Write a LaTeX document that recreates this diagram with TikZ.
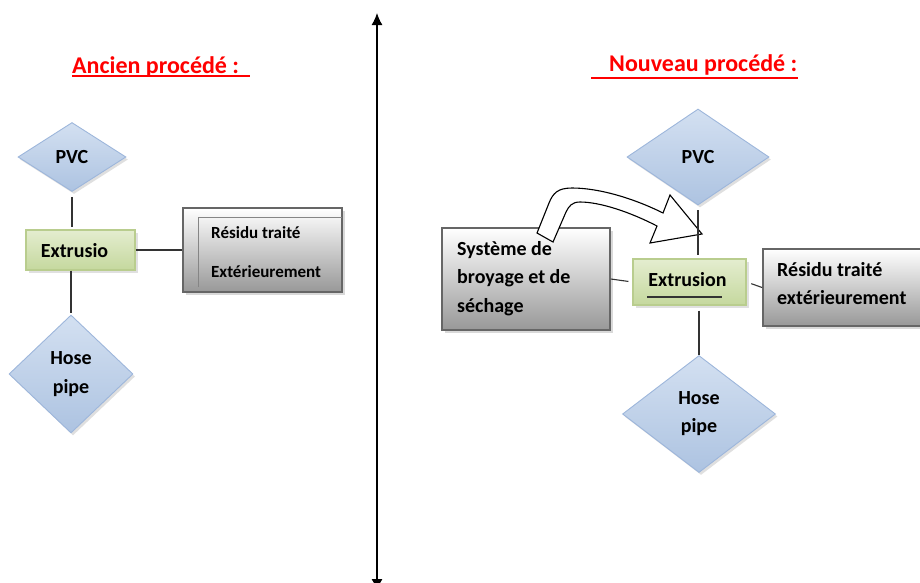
\documentclass[tikz,border=0pt]{standalone}
\usepackage{fontspec}
\setmainfont{Carlito}
\usetikzlibrary{shapes.geometric,shadows,arrows.meta}
\definecolor{diaTop}{HTML}{D3E0F1}
\definecolor{diaBot}{HTML}{ADC3E1}
\definecolor{diaLine}{HTML}{9DB6DB}
\definecolor{grnTop}{HTML}{E4EDCF}
\definecolor{grnBot}{HTML}{C5D89E}
\definecolor{grnLine}{HTML}{B9CD8E}
\definecolor{gryTop}{HTML}{FFFFFF}
\definecolor{gryBot}{HTML}{989898}
\definecolor{gryLine}{HTML}{666666}
\definecolor{titleRed}{HTML}{FF0000}
\definecolor{conn}{HTML}{333333}
\begin{document}
\begin{tikzpicture}[x=1pt,y=-1pt,
  dia/.style={diamond, draw=diaLine, line width=0.9pt, top color=diaTop, bottom color=diaBot,
    inner sep=0pt, align=center, font=\fontsize{20}{29}\selectfont\bfseries,
    drop shadow={shadow xshift=2pt, shadow yshift=-2.5pt, fill=black!25, opacity=0.5}},
  grn/.style={rectangle, draw=grnLine, line width=1.2pt, top color=grnTop, bottom color=grnBot,
    inner sep=0pt, font=\fontsize{20}{24}\selectfont\bfseries,
    drop shadow={shadow xshift=2.5pt, shadow yshift=-2.5pt, fill=black!20, opacity=0.6}},
  gry/.style={rectangle, draw=gryLine, line width=1.8pt, top color=gryTop, bottom color=gryBot,
    inner sep=0pt,
    drop shadow={shadow xshift=3pt, shadow yshift=-3pt, fill=black!25, opacity=0.6}},
  lbl/.style={anchor=west, inner sep=0pt, align=left, font=\fontsize{20}{28.5}\selectfont\bfseries},
  ttl/.style={anchor=base west, inner sep=0pt, text=titleRed, font=\fontsize{24}{28}\selectfont\bfseries},
  cn/.style={draw=conn, line width=1.1pt}
]
\useasboundingbox (0,0) rectangle (920,582);
\clip (0,0) rectangle (920,582);

% central axis
\coordinate (axT) at (377,13);
\coordinate (axB) at (377,591);
\draw[line width=1.3pt, {Latex[length=12pt,width=11pt]}-{Latex[length=12pt,width=11pt]}] (axT) -- (axB);

% ---------- left: ancien procede ----------
\node[ttl] (t1) at (72,73) {Ancien procédé :};
\coordinate (u1a) at (72,76);
\coordinate (u1b) at (250,76);
\draw[titleRed, line width=2pt] (u1a) -- (u1b);

\node[dia, minimum width=108pt, minimum height=69pt] (pvcL) at (72,157) {PVC};
\node[grn, minimum width=109pt, minimum height=40pt] (extL) at (80.5,250) {};
\node[font=\fontsize{20}{24}\selectfont\bfseries, inner sep=0pt] (extLt) at (74.5,251) {Extrusio};
\node[dia, minimum width=124pt, minimum height=118pt] (hoseL) at (71,374) {Hose\\pipe};
\node[gry, minimum width=159pt, minimum height=84pt] (resL) at (262.5,250) {};
\coordinate (fA) at (198,287);
\coordinate (fB) at (198,217);
\coordinate (fC) at (342,217);
\draw[gryLine!80, line width=1pt] (fA) -- (fB) -- (fC);
\node[lbl, font=\fontsize{17}{39}\selectfont\bfseries] (resLt) at (211,252.5) {Résidu traité\\Extérieurement};

\draw[cn, shorten <=5pt, shorten >=2pt] (pvcL.south) -- (extL.north -| pvcL.south);
\draw[cn] (extL.east) -- (resL.west);
\draw[cn, shorten >=2pt] (extL.south -| hoseL.north) -- (hoseL.north);

% ---------- right: nouveau procede ----------
\node[ttl] (t2) at (609,71) {Nouveau procédé :};
\coordinate (u2a) at (591,78);
\coordinate (u2b) at (798,78);
\draw[titleRed, line width=2pt] (u2a) -- (u2b);

\node[dia, minimum width=142pt, minimum height=96pt] (pvcR) at (698,157) {PVC};
\node[grn, minimum width=113pt, minimum height=46pt] (extR) at (689.5,282) {};
\node[font=\fontsize{20}{24}\selectfont\bfseries, inner sep=0pt] (extRt) at (687.5,280) {Extrusion};
\coordinate (ulA) at (647,297);
\coordinate (ulB) at (722,297);
\draw[black!80, line width=1.2pt] (ulA) -- (ulB);
\node[dia, minimum width=153pt, minimum height=117pt] (hoseR) at (699,414) {Hose\\[-1pt]pipe};
\node[gry, minimum width=168pt, minimum height=102pt] (sys) at (526,279) {};
\node[gry, minimum width=170pt, minimum height=77pt] (resR) at (848,287.5) {};
\node[lbl] (resRt) at (777,283.5) {Résidu traité\\extérieurement};

% curved block arrow
\draw[black, line width=1.1pt, fill=white]
  (537,233) -- (549,203) .. controls (553,193) and (558,188) .. (572,188)
  .. controls (600,188) and (635,199) .. (663,213)
  -- (670,195) -- (702,234) -- (650,243) -- (657,226)
  .. controls (630,212) and (600,202) .. (580,202)
  .. controls (572,202) and (569,206) .. (566,212)
  -- (553,242) -- cycle;

\node[lbl] (syst) at (457,278.5) {Système de\\broyage et de\\séchage};

\draw[cn, shorten <=5pt, shorten >=3pt] (pvcR.south) -- (extR.north -| pvcR.south);
\draw[cn, shorten >=4pt] (sys.east) -- (extR.west);
\draw[cn, shorten <=5pt] (extR.east) -- (resR.west);
\draw[cn, shorten <=5pt] (extR.south -| hoseR.north) -- (hoseR.north);
\end{tikzpicture}
\end{document}
